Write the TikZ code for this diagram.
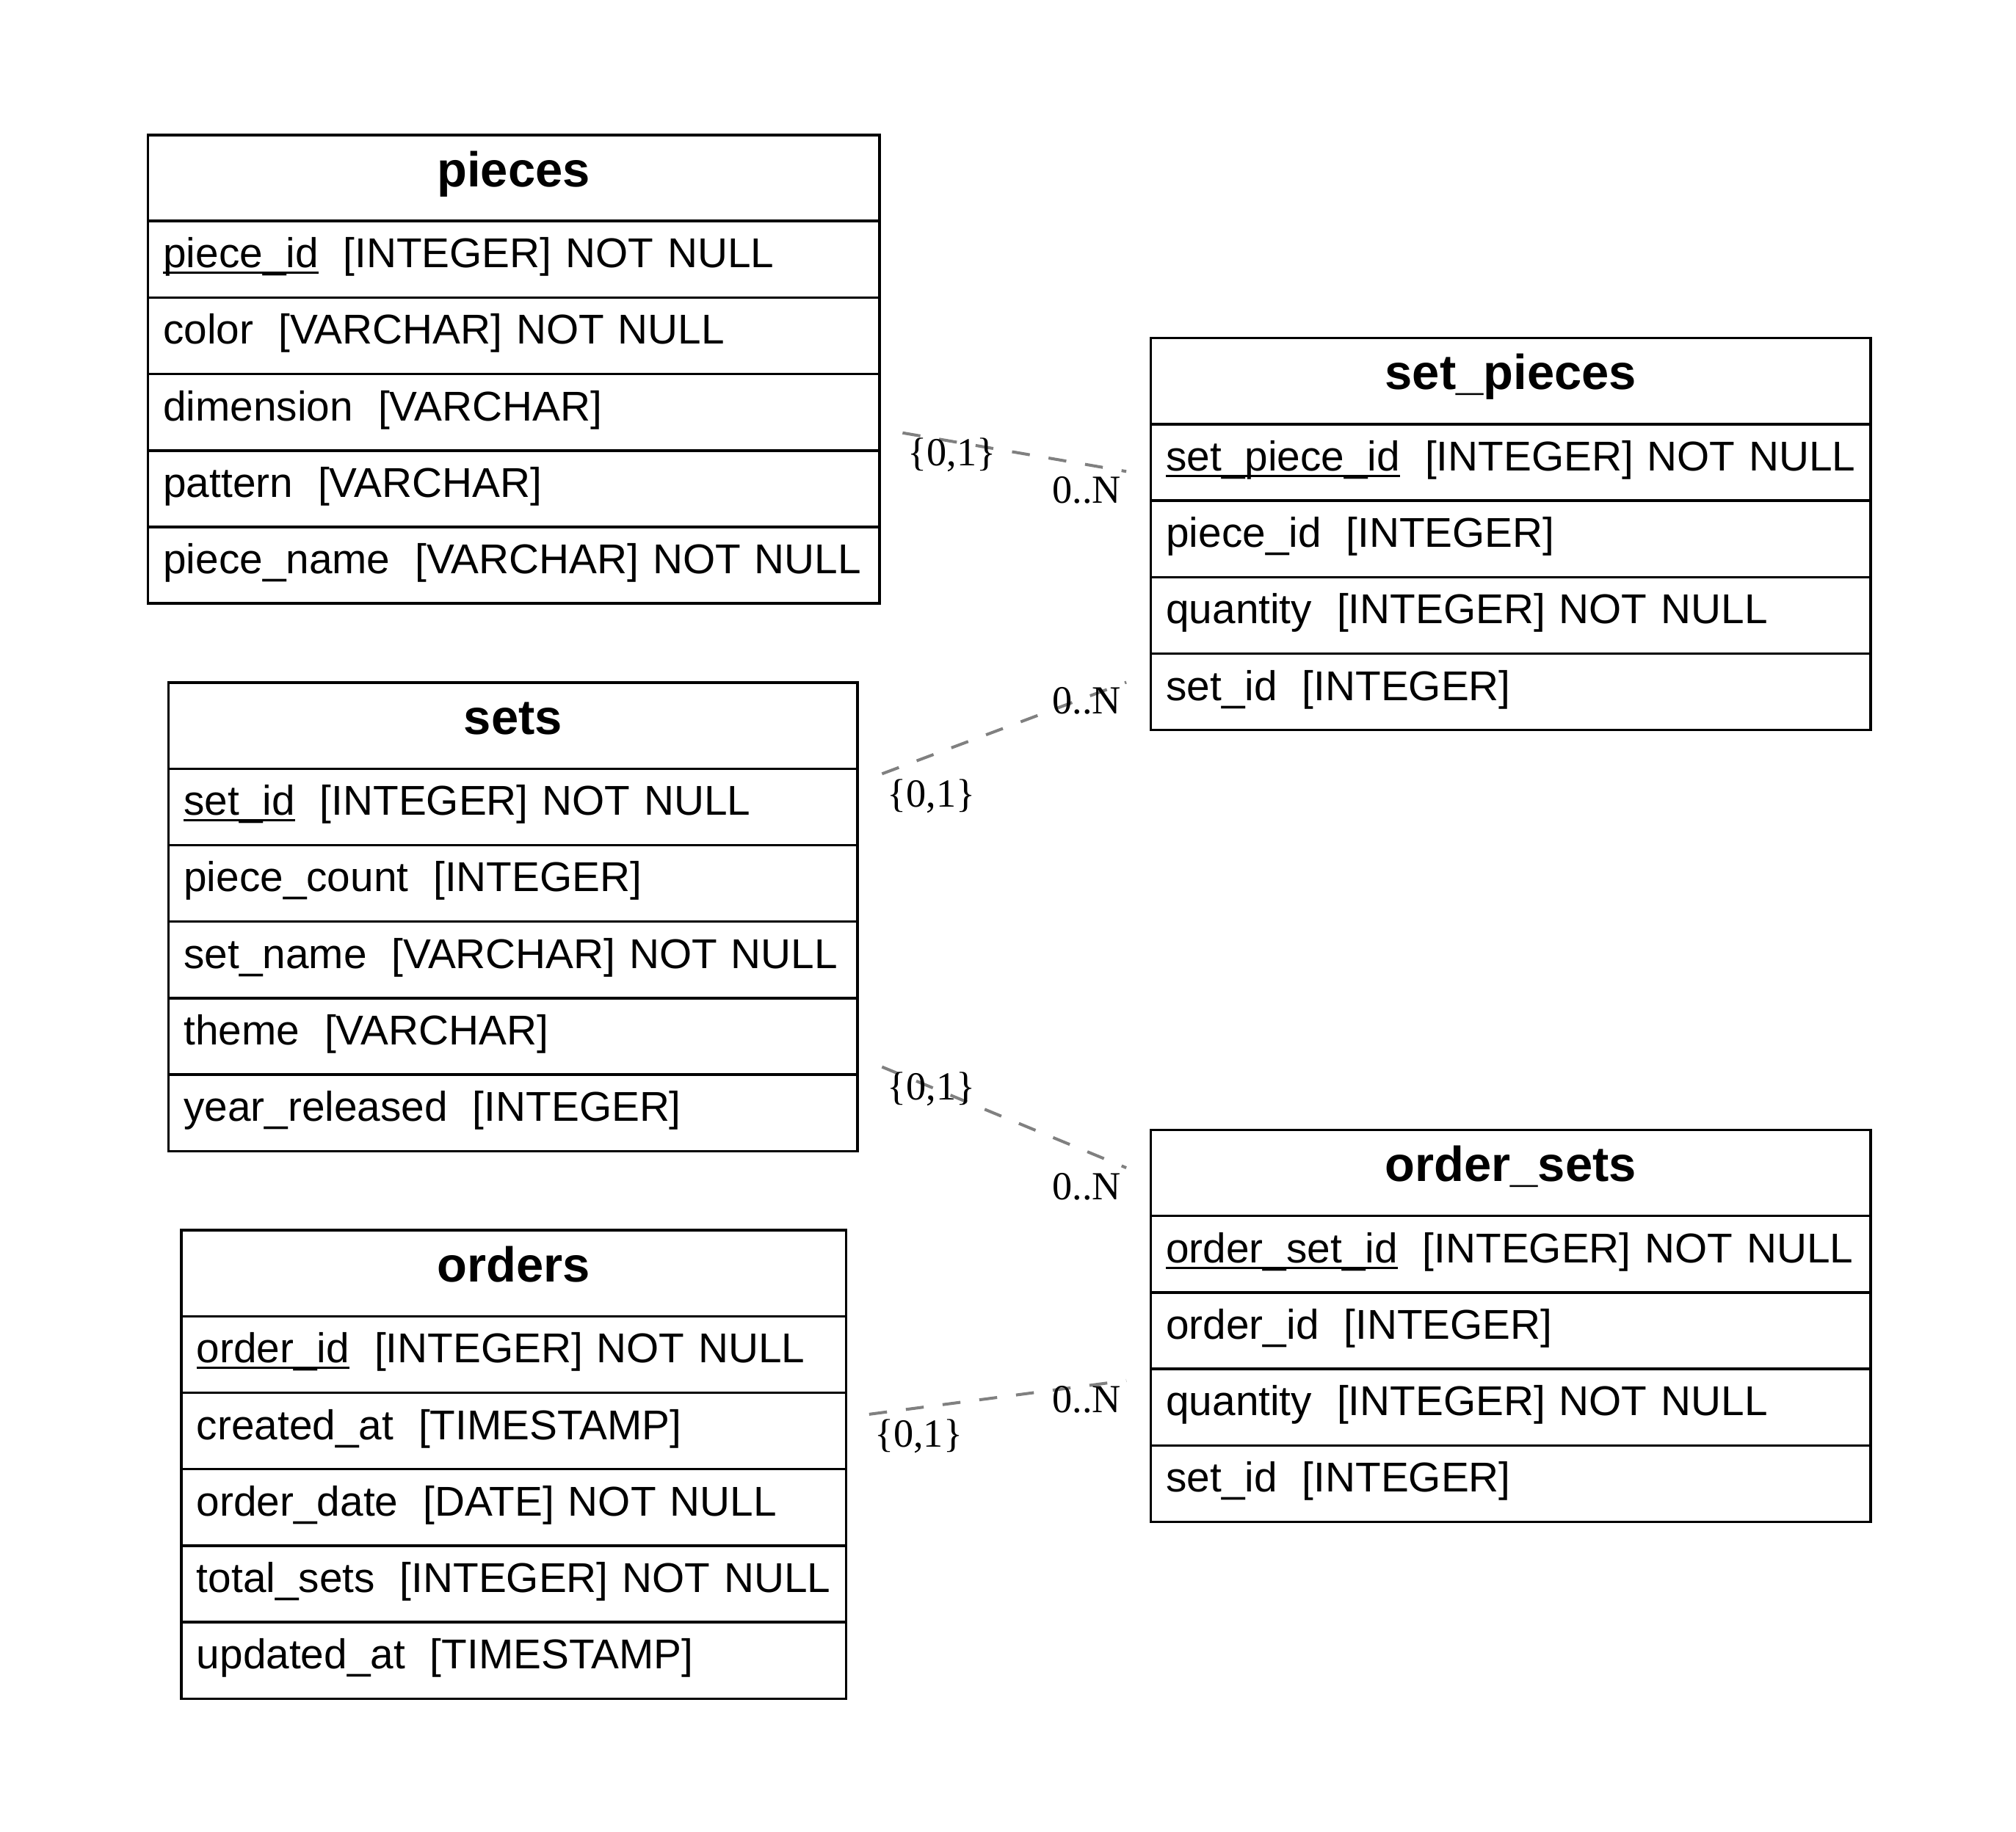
\documentclass[tikz,border=0pt]{standalone}
\usepackage{fontspec}
\setmainfont{Liberation Sans}
\newfontfamily\cardfont{Liberation Serif}
\usetikzlibrary{positioning}
\definecolor{relgray}{HTML}{808080}
\newcommand{\fld}[2]{\mbox{#1\hspace{0.6em}#2}}
\newcommand{\keyfld}[1]{\setbox0\hbox{#1}\rlap{\rule[-2.4pt]{\wd0}{0.8pt}}\box0}

\begin{document}
\begin{tikzpicture}[x=0.5pt,y=-0.5pt,
  tabhead/.style={draw,line width=1pt,outer sep=0pt,inner sep=0pt,minimum height=33.5pt,
    text height=13.6pt,text depth=7pt,font=\fontsize{19.1}{21}\selectfont\bfseries},
  tabrow/.style={draw,line width=1pt,outer sep=0pt,inner xsep=6pt,inner ysep=0pt,
    minimum height=29.75pt,text height=12pt,text depth=5.5pt,align=left,
    font=\fontsize{16.2}{18}\selectfont},
  rel/.style={relgray,line width=1.15pt,dash pattern=on 7pt off 7.4pt},
  card/.style={text=black,font=\cardfont\fontsize{15.5}{17}\selectfont,inner sep=1.5pt}]
  \useasboundingbox (0,0) rectangle (1568,1425);

  % pieces
  \node[tabhead,minimum width=284.5pt,anchor=north west] (pieces) at (115,105) {pieces};
  \node[tabrow,text width=272.5pt,below=0pt of pieces] (pieces-1) {\fld{\keyfld{piece\_id}}{[INTEGER] NOT NULL}};
  \node[tabrow,text width=272.5pt,below=0pt of pieces-1] (pieces-2) {\fld{color}{[VARCHAR] NOT NULL}};
  \node[tabrow,text width=272.5pt,below=0pt of pieces-2] (pieces-3) {\fld{dimension}{[VARCHAR]}};
  \node[tabrow,text width=272.5pt,below=0pt of pieces-3] (pieces-4) {\fld{pattern}{[VARCHAR]}};
  \node[tabrow,text width=272.5pt,below=0pt of pieces-4] (pieces-5) {\fld{piece\_name}{[VARCHAR] NOT NULL}};

  % set_pieces
  \node[tabhead,minimum width=280pt,anchor=north west] (setpieces) at (895,263) {set\_pieces};
  \node[tabrow,text width=268pt,below=0pt of setpieces] (setpieces-1) {\fld{\keyfld{set\_piece\_id}}{[INTEGER] NOT NULL}};
  \node[tabrow,text width=268pt,below=0pt of setpieces-1] (setpieces-2) {\fld{piece\_id}{[INTEGER]}};
  \node[tabrow,text width=268pt,below=0pt of setpieces-2] (setpieces-3) {\fld{quantity}{[INTEGER] NOT NULL}};
  \node[tabrow,text width=268pt,below=0pt of setpieces-3] (setpieces-4) {\fld{set\_id}{[INTEGER]}};

  % sets
  \node[tabhead,minimum width=268pt,anchor=north west] (sets) at (131,531) {sets};
  \node[tabrow,text width=256pt,below=0pt of sets] (sets-1) {\fld{\keyfld{set\_id}}{[INTEGER] NOT NULL}};
  \node[tabrow,text width=256pt,below=0pt of sets-1] (sets-2) {\fld{piece\_count}{[INTEGER]}};
  \node[tabrow,text width=256pt,below=0pt of sets-2] (sets-3) {\fld{set\_name}{[VARCHAR] NOT NULL}};
  \node[tabrow,text width=256pt,below=0pt of sets-3] (sets-4) {\fld{theme}{[VARCHAR]}};
  \node[tabrow,text width=256pt,below=0pt of sets-4] (sets-5) {\fld{year\_released}{[INTEGER]}};

  % orders
  \node[tabhead,minimum width=258.5pt,anchor=north west] (orders) at (141,957) {orders};
  \node[tabrow,text width=246.5pt,below=0pt of orders] (orders-1) {\fld{\keyfld{order\_id}}{[INTEGER] NOT NULL}};
  \node[tabrow,text width=246.5pt,below=0pt of orders-1] (orders-2) {\fld{created\_at}{[TIMESTAMP]}};
  \node[tabrow,text width=246.5pt,below=0pt of orders-2] (orders-3) {\fld{order\_date}{[DATE] NOT NULL}};
  \node[tabrow,text width=246.5pt,below=0pt of orders-3] (orders-4) {\fld{total\_sets}{[INTEGER] NOT NULL}};
  \node[tabrow,text width=246.5pt,below=0pt of orders-4] (orders-5) {\fld{updated\_at}{[TIMESTAMP]}};

  % order_sets
  \node[tabhead,minimum width=280pt,anchor=north west] (ordersets) at (895,879) {order\_sets};
  \node[tabrow,text width=268pt,below=0pt of ordersets] (ordersets-1) {\fld{\keyfld{order\_set\_id}}{[INTEGER] NOT NULL}};
  \node[tabrow,text width=268pt,below=0pt of ordersets-1] (ordersets-2) {\fld{order\_id}{[INTEGER]}};
  \node[tabrow,text width=268pt,below=0pt of ordersets-2] (ordersets-3) {\fld{quantity}{[INTEGER] NOT NULL}};
  \node[tabrow,text width=268pt,below=0pt of ordersets-3] (ordersets-4) {\fld{set\_id}{[INTEGER]}};

  % relationship ends
  \coordinate (pc-out) at ([xshift=9pt,yshift=-8pt]pieces-3.east);
  \coordinate (sp-in1) at ([xshift=-9.5pt,yshift=-3.5pt]setpieces-1.west);
  \coordinate (st-out1) at ([xshift=9.5pt,yshift=-2pt]sets-1.north east);
  \coordinate (sp-in2) at ([xshift=-9.5pt,yshift=3.75pt]setpieces-4.west);
  \coordinate (st-out2) at ([xshift=9.5pt,yshift=3pt]sets-5.north east);
  \coordinate (os-in1) at ([xshift=-9.5pt,yshift=2pt]ordersets.west);
  \coordinate (or-out) at ([xshift=9pt,yshift=6.5pt]orders-2.east);
  \coordinate (os-in2) at ([xshift=-9.5pt,yshift=-4.5pt]ordersets-2.south west);

  \draw[rel] (pc-out) -- (sp-in1)
    node[card,pos=0,anchor=north west] {\{0,1\}} node[card,pos=1,anchor=north east] {0..N};
  \draw[rel] (st-out1) -- (sp-in2)
    node[card,pos=0,anchor=north west] {\{0,1\}} node[card,pos=1,anchor=north east] {0..N};
  \draw[rel] (st-out2) -- (os-in1)
    node[card,pos=0,anchor=north west] {\{0,1\}} node[card,pos=1,anchor=north east] {0..N};
  \draw[rel] (or-out) -- (os-in2)
    node[card,pos=0,anchor=north west] {\{0,1\}} node[card,pos=1,anchor=north east] {0..N};
\end{tikzpicture}
\end{document}
